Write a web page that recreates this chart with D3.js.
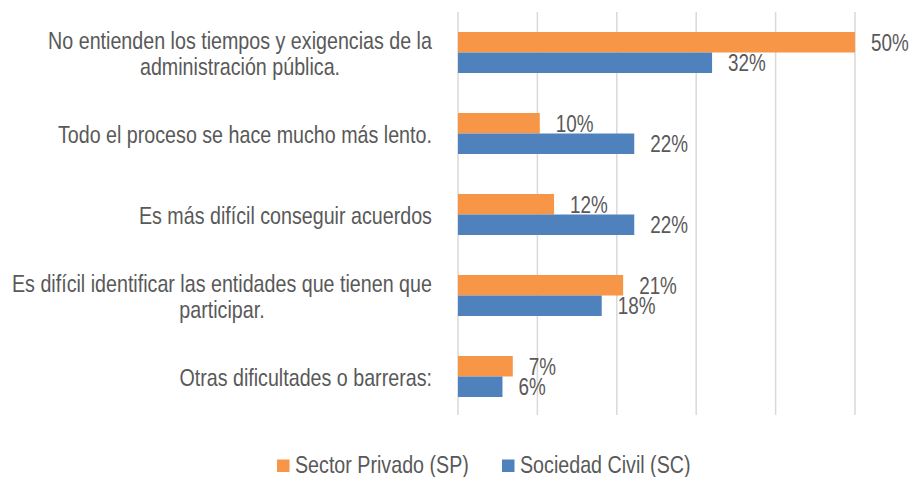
<!DOCTYPE html>
<html>
<head>
<meta charset="utf-8">
<script src="https://cdn.jsdelivr.net/npm/d3@7"></script>
<style>
  html, body { margin: 0; padding: 0; background: #fff; }
  svg { display: block; }
</style>
</head>
<body>
<svg id="chart" width="923" height="477"></svg>
<script>
// ---- data ----
const categories = [
  ["No entienden los tiempos y exigencias de la", "administración pública."],
  ["Todo el proceso se hace mucho más lento."],
  ["Es más difícil conseguir acuerdos"],
  ["Es difícil identificar las entidades que tienen que", "participar."],
  ["Otras dificultades o barreras:"]
];
const seriesNames = ["Sector Privado (SP)", "Sociedad Civil (SC)"];
const sectorPrivado = [0.50, 0.103, 0.121, 0.208, 0.069];
const sociedadCivil = [0.32, 0.222, 0.222, 0.181, 0.056];
const xTicks = [0, 0.1, 0.2, 0.3, 0.4, 0.5];

// ---- style ----
const colors = ["#F79646", "#4F81BD"];
const textColor = "#595959";
const fontSize = 24;
const fontFamily = "'Liberation Sans Narrow', 'Arial Narrow', 'Liberation Sans', Arial, sans-serif";

const svg = d3.select("#chart");

function measure(family, str, size) {
  const t = svg.append("text").attr("font-family", family).attr("font-size", size || fontSize).text(str);
  const w = t.node().getComputedTextLength();
  t.remove();
  return w;
}
const wNarrow = measure("'Liberation Sans Narrow', 'Liberation Sans'", "Sector Privado (SP)");
const wRegular = measure("'Liberation Sans'", "Sector Privado (SP)");
const sx = (wNarrow < wRegular * 0.95) ? 1 : 0.82;

function addText(parent, x, y, str, anchor, size) {
  return parent.append("text")
    .attr("transform", `translate(${x},${y}) scale(${sx},1)`)
    .attr("text-anchor", anchor || "start")
    .attr("font-family", fontFamily)
    .attr("font-size", size || fontSize)
    .attr("fill", textColor)
    .text(str);
}

const plot = { left: 458, right: 855, top: 12, bottom: 417 };

const x = d3.scaleLinear().domain([0, 0.5]).range([plot.left, plot.right]);
const y = d3.scaleBand().domain(d3.range(categories.length)).range([plot.top, plot.bottom]).padding(0);
const groupH = 41;
const inner = d3.scaleBand().domain([0, 1]).range([0, groupH]).padding(0);

// gridlines
svg.append("g").selectAll("line").data(xTicks).join("line")
  .attr("x1", d => x(d)).attr("x2", d => x(d))
  .attr("y1", plot.top).attr("y2", plot.bottom - 2)
  .attr("stroke", "#D9D9D9").attr("stroke-width", 1.5);

const series = [sectorPrivado, sociedadCivil];

// bars
series.forEach((vals, si) => {
  const g = svg.append("g");
  vals.forEach((v, i) => {
    const y0 = y(i) + (y.bandwidth() - groupH) / 2 + inner(si);
    g.append("rect")
      .attr("x", x(0)).attr("y", y0)
      .attr("width", x(v) - x(0)).attr("height", inner.bandwidth())
      .attr("fill", colors[si]);
    addText(g, x(v) + 16, y0 + inner.bandwidth() / 2 + 8.5, d3.format(".0%")(v), "start", 23);
  });
});

// category labels
const labelRight = 432;
const lineH = 25.5;
categories.forEach((lines, i) => {
  const widths = lines.map(l => measure(fontFamily, l) * sx);
  const maxW = d3.max(widths);
  const cx = labelRight - maxW / 2;
  const cy = y(i) + y.bandwidth() / 2 + 1;
  lines.forEach((l, li) => {
    const ly = cy + (li - (lines.length - 1) / 2) * lineH + 8.5;
    addText(svg, cx, ly, l, "middle");
  });
});

// legend
const legendItems = [
  { x: 277, name: seriesNames[0], color: colors[0] },
  { x: 502, name: seriesNames[1], color: colors[1] }
];
const lg = svg.append("g");
legendItems.forEach(it => {
  lg.append("rect").attr("x", it.x).attr("y", 459.5).attr("width", 12.5).attr("height", 12.5).attr("fill", it.color);
  addText(lg, it.x + 18, 472.5, it.name, "start");
});
</script>
</body>
</html>
